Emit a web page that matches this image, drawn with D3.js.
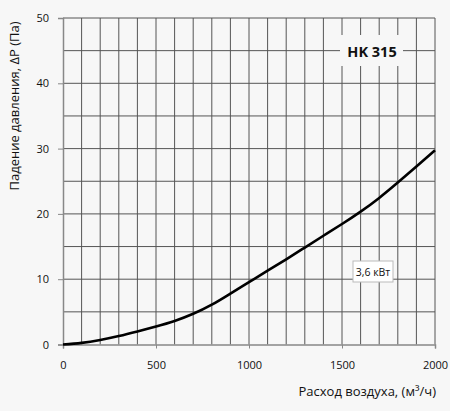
<!DOCTYPE html>
<html><head><meta charset="utf-8">
<script src="https://cdn.jsdelivr.net/npm/d3@7/dist/d3.min.js"></script>
<style>html,body{margin:0;padding:0;background:#f7f7f7;}svg{display:block;font-family:"Open Sans",sans-serif;}</style>
</head><body>
<svg id="c" width="450" height="411"></svg>
<script>
const flow = [0,100,200,300,400,500,600,700,800,900,1000,1100,1200,1300,1400,1500,1600,1700,1800,1900,2000];
const pressure = [0,0.25,0.7,1.3,2.0,2.75,3.6,4.7,6.1,7.8,9.55,11.3,13.05,14.85,16.65,18.45,20.35,22.45,24.8,27.25,29.75];
const xTicks = [0,500,1000,1500,2000];
const yTicks = [0,10,20,30,40,50];
const modelLabel = "HK 315";
const powerLabel = "3,6 кВт";
const xTitle = "Расход воздуха, (м³/ч)";
const yTitle = "Падение давления, \u0394P (Па)";

const svg = d3.select("#c");
const m = {l:63, r:435, t:18, b:344.5};
const x = d3.scaleLinear().domain([0,2000]).range([m.l,m.r]);
const y = d3.scaleLinear().domain([0,50]).range([m.b,m.t]);

const g = svg.append("g");
g.selectAll("line.v").data(d3.range(100,2001,100)).join("line")
  .attr("x1",d=>x(d)).attr("x2",d=>x(d)).attr("y1",m.t).attr("y2",m.b)
  .attr("stroke","#555").attr("stroke-width",1);
g.selectAll("line.h").data(d3.range(5,51,5)).join("line")
  .attr("x1",m.l).attr("x2",m.r).attr("y1",d=>y(d)).attr("y2",d=>y(d))
  .attr("stroke","#555").attr("stroke-width",1);

const xa = svg.append("g").attr("transform",`translate(0,${m.b})`)
  .call(d3.axisBottom(x).tickValues(xTicks).tickSize(4).tickPadding(13).tickFormat(d3.format("d")));
const ya = svg.append("g").attr("transform",`translate(${m.l},0)`)
  .call(d3.axisLeft(y).tickValues(yTicks).tickSize(5).tickPadding(9));
[xa,ya].forEach(a=>{
  a.select(".domain").attr("stroke","#888").attr("stroke-width",1.5);
  a.selectAll(".tick line").attr("stroke","#888");
  a.selectAll(".tick text").attr("fill","#111").attr("font-size",11).attr("font-family","Open Sans, sans-serif");
});

svg.append("rect").attr("x",340).attr("y",35).attr("width",63).attr("height",31).attr("fill","#f7f7f7");
svg.append("text").attr("x",372).attr("y",56.5).attr("text-anchor","middle")
  .attr("font-size",14.5).attr("font-weight","bold").attr("fill","#111").text(modelLabel);

const line = d3.line().x((d,i)=>x(flow[i])).y(d=>y(d)).curve(d3.curveNatural);
svg.append("path").attr("d",line(pressure)).attr("fill","none").attr("stroke","#000").attr("stroke-width",2.6);

svg.append("rect").attr("x",353).attr("y",261).attr("width",40).attr("height",21)
  .attr("fill","#fff").attr("stroke","#bbb").attr("stroke-width",1);
svg.append("text").attr("x",373).attr("y",275.5).attr("text-anchor","middle")
  .attr("font-size",10.5).attr("fill","#111").text(powerLabel);

svg.append("text").attr("x",436).attr("y",396).attr("text-anchor","end")
  .attr("font-size",13).attr("fill","#111").text(xTitle);
svg.append("text").attr("transform","translate(19,106) rotate(-90)").attr("text-anchor","middle")
  .attr("font-size",13).attr("fill","#111").text(yTitle);
</script>
</body></html>
